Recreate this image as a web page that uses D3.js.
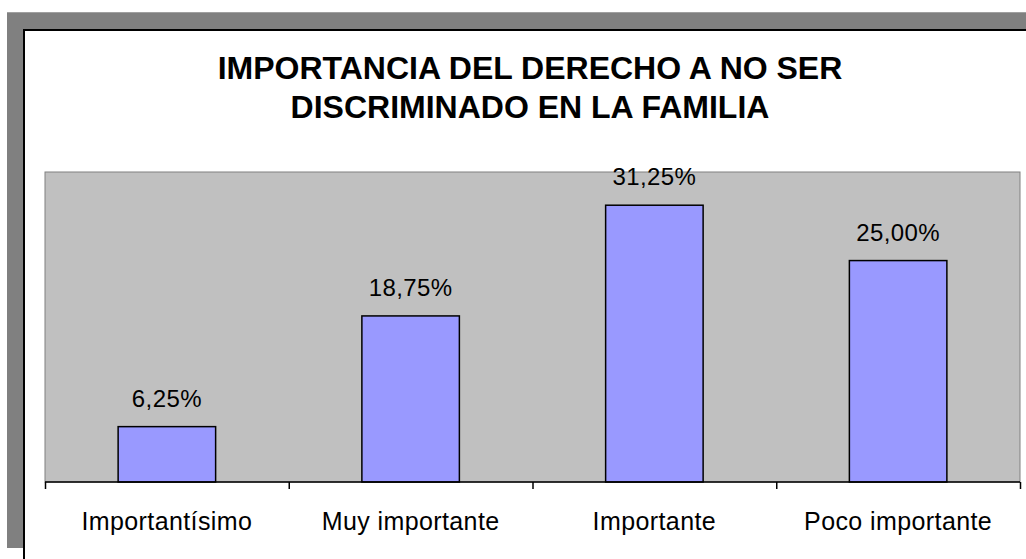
<!DOCTYPE html>
<html>
<head>
<meta charset="utf-8">
<script src="https://cdn.jsdelivr.net/npm/d3@7"></script>
<style>
  html, body { margin: 0; padding: 0; background: #fff; }
  svg { display: block; }
  text { font-family: "Liberation Sans", Arial, sans-serif; fill: #000; }
</style>
</head>
<body>
<svg id="chart" width="1026" height="559"></svg>
<script>
// Chart data
const titleLines = ["IMPORTANCIA DEL DERECHO A NO SER", "DISCRIMINADO EN LA FAMILIA"];
const categories = ["Importantísimo", "Muy importante", "Importante", "Poco importante"];
const values = [6.25, 18.75, 31.25, 25.00];
const yMax = 35;

const svg = d3.select("#chart");

// Outer frame: gray backdrop with the bordered white chart area on top
svg.append("rect").attr("x", 7).attr("y", 12).attr("width", 1100).attr("height", 536).attr("fill", "#808080");
svg.append("rect").attr("x", 7).attr("y", 12).attr("width", 1100).attr("height", 1).attr("fill", "#a0a0a0");
svg.append("rect").attr("x", 24).attr("y", 30).attr("width", 1100).attr("height", 600)
  .attr("fill", "#fff").attr("stroke", "#000").attr("stroke-width", 2);

// Title
svg.append("text")
  .attr("x", 530).attr("text-anchor", "middle")
  .style("font-size", "32px").style("font-weight", "bold")
  .selectAll("tspan").data(titleLines).join("tspan")
  .attr("x", 530).attr("y", (d, i) => 79 + i * 39)
  .text(d => d);

// Plot area
const plot = { left: 45, right: 1020, top: 172, bottom: 482 };

const x = d3.scaleBand().domain(categories).range([plot.left, plot.right]).paddingInner(0.6).paddingOuter(0.3);
const y = d3.scaleLinear().domain([0, yMax]).range([plot.bottom, plot.top]);

svg.append("rect")
  .attr("x", plot.left).attr("y", plot.top)
  .attr("width", plot.right - plot.left).attr("height", plot.bottom - plot.top)
  .attr("fill", "#C0C0C0").attr("stroke", "#808080").attr("stroke-width", 1);

// Bars
svg.append("g").selectAll("rect").data(values).join("rect")
  .attr("x", (d, i) => x(categories[i]))
  .attr("y", d => y(d))
  .attr("width", x.bandwidth())
  .attr("height", d => y(0) - y(d))
  .attr("fill", "#9999FF").attr("stroke", "#000").attr("stroke-width", 1.5);

// Value labels
const fmt = v => v.toFixed(2).replace(".", ",") + "%";
svg.append("g").selectAll("text").data(values).join("text")
  .attr("x", (d, i) => x(categories[i]) + x.bandwidth() / 2)
  .attr("y", d => y(d) - 20)
  .attr("text-anchor", "middle")
  .style("font-size", "24px").style("letter-spacing", "0.4px")
  .text(fmt);

// Category axis: ticks at the band boundaries
const step = (plot.right - plot.left) / categories.length;
const xb = d3.scaleLinear().domain([0, categories.length]).range([plot.left, plot.right]);
const axis = svg.append("g").attr("transform", `translate(0,${plot.bottom})`)
  .call(d3.axisBottom(xb).tickValues(d3.range(categories.length + 1)).tickSize(7).tickFormat(""));
axis.select(".domain").attr("stroke", "#000").attr("stroke-width", 1.5).attr("d", `M${plot.left},0H${plot.right}`);
axis.selectAll(".tick line").attr("stroke", "#000").attr("stroke-width", 1.5);

svg.append("g").selectAll("text").data(categories).join("text")
  .attr("x", (d, i) => plot.left + step * (i + 0.5))
  .attr("y", 530)
  .attr("text-anchor", "middle")
  .style("font-size", "25px").style("letter-spacing", "0.4px")
  .text(d => d);
</script>
</body>
</html>
